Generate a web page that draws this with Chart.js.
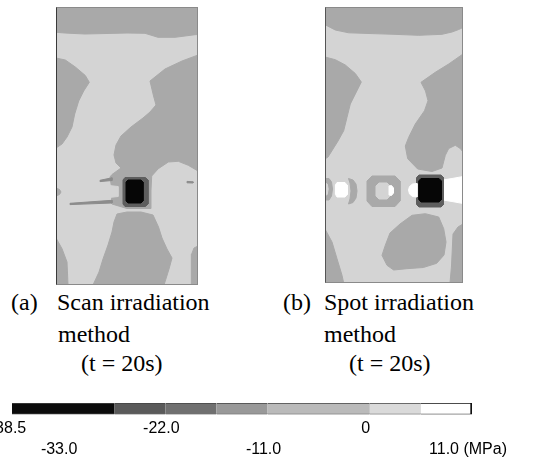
<!DOCTYPE html>
<html>
<head>
<meta charset="utf-8">
<script src="https://cdn.jsdelivr.net/npm/chart.js@4.4.0/dist/chart.umd.min.js"></script>
<style>
  html, body { margin: 0; padding: 0; background: #fff; }
  body { width: 539px; height: 461px; position: relative; overflow: hidden; }
  .panel { position: absolute; border: 1px solid #8a8a8a; }
  .panel canvas { display: block; }
  #panelA { left: 56px; top: 7px; border-left-color: #3a3a3a; }
  #panelB { left: 325px; top: 7px; border-left-color: #555; }
  #barBox { position: absolute; left: -20px; top: 395px; }
  .cap { position: absolute; font-family: "Liberation Serif", "Times New Roman", serif; font-size: 24px; line-height: 24px; color: #000; white-space: pre; }
</style>
</head>
<body>
<div class="panel" id="panelA"><canvas id="mapA" width="140" height="276"></canvas></div>
<div class="panel" id="panelB"><canvas id="mapB" width="136" height="274"></canvas></div>
<div id="barBox"><canvas id="scaleBar" width="559" height="66"></canvas></div>

<div class="cap" style="left:11px;top:290px">(a)</div>
<div class="cap" style="left:57px;top:290px">Scan irradiation</div>
<div class="cap" style="left:58px;top:322px">method</div>
<div class="cap" style="left:81px;top:351px">(t = 20s)</div>
<div class="cap" style="left:283px;top:290px">(b)</div>
<div class="cap" style="left:324px;top:290px">Spot irradiation</div>
<div class="cap" style="left:324px;top:322px">method</div>
<div class="cap" style="left:349px;top:351px">(t = 20s)</div>

<script>
// ---- stress levels (MPa) for the colour bar ----
const levelEdges = [-38.5, -27.5, -22.0, -16.5, -11.0, 0, 5.5, 11.0];
const levelColors = ["#0b0b0b", "#5a5a5a", "#707070", "#999999", "#bababa", "#dadada", "#ffffff"];
// tick labels sit on two staggered rows
const upperTicks = [-38.5, -22.0, 0];
const upperLabels = ["-38.5", "-22.0", "0"];
const lowerTicks = [-33.0, -11.0, 11.0];
const lowerLabels = ["-33.0", "-11.0", "11.0 (MPa)"];

// ---- contour regions, plate coords (x right, y down) ----
// (a) scan irradiation, plate 140 x 276
const aPlate = [[-1,-1],[141,-1],[141,277],[-1,277]];
const aTop = [[-1,-1],[141,-1],[141,26.5],[138,26.7],[118,29.3],[101,29.3],[88,25.3],[70,25],[28,26],[8,25],[-1,24.3]];
const aLeftUpper = [[-1,50],[8.3,52],[18.3,59],[28.3,67.5],[32.3,74.3],[26.7,83],[21.7,93],[17.7,106],[15,119],[10,129],[5,136],[-1,140]];
const aRightBig = [[141,47],[125,53],[108,61],[93,73],[96.3,87],[99,97],[93,104],[86,110],[74,119],[64,128],[59,137],[57,147],[59,155],[64,160],[55,166.5],[53,169],[55,182],[55,196],[70,200.5],[93,200.5],[94,182],[94.7,168],[101.3,160.7],[111.3,154],[121.3,153.3],[131.3,157.3],[141,163]];
const aNotch = [[52,177.5],[61,178.5],[61,188.5],[52,189.5]];
const aStreakUp = [[43,172.3],[55,169.8],[55,172.5],[43,173.6]];
const aStreakLow = [[13,195.3],[55,192.3],[55,195],[13,196.6]];
const aHalo = [[68,169.5],[88.5,169.5],[91,172],[91,196],[88.5,198.5],[68,198.5],[66,196],[66,172]];
const aCore = [[71,172],[84,172],[86,174],[86,193],[84,195],[71,195],[69,193],[69,174]];
const aBottom = [[60,206],[70,204],[84,204],[96,207],[101.5,219],[105,230],[110,241],[115,250],[112,261],[107,277],[36,277],[42,264],[46,251],[51,237],[55,224],[57,214]];
const aLeftBottom = [[-1,230],[5,240.7],[10,254],[11,277],[-1,277]];
const aRightBottom = [[134.7,246],[137,240],[141,238],[141,277],[134.5,277],[134,260]];
const aLeftBump = [[-1,180],[2.5,181.5],[4,184],[2.5,186.5],[-1,188]];
const aDash = [[130,173.4],[136,173.8],[136,175],[130,174.8]];

// (b) spot irradiation, plate 136 x 274
const bPlate = [[-1,-1],[137,-1],[137,275],[-1,275]];
const bTop = [[-1,-1],[137,-1],[137,19.5],[132.7,21.5],[126,24],[116,26.3],[92.7,27.3],[68,26.3],[46,25.6],[22.7,24.8],[9.3,22],[-1,16.7]];
const bLeftUpper = [[-1,49],[9.3,51.7],[19.3,57],[29.3,65.5],[35.3,74],[29.3,86],[24.3,96],[21,109.3],[17.7,122.7],[12,133],[7,141],[2,149],[-1,151]];
const bRightBig = [[137,46],[122.7,56],[109.3,64.3],[95,74.3],[99.5,83],[102,92.7],[98.5,102.7],[89.3,116],[82.7,129.3],[79.3,138],[81.7,150.7],[91.7,161],[106,163.5],[116,160],[119.3,147.3],[122.7,140.5],[129.3,137.3],[134.3,140.5],[137,144]];
const bBlob = [[64,225],[74,216],[86,207.3],[99.3,205.7],[112.7,209],[117.7,220.7],[120,234],[118,247],[110.7,255.3],[97.3,259.5],[80.7,260.7],[67.7,262],[61,257.3],[56,247.3],[59.3,237.3]];
const bLeftBottom = [[-1,221],[6,234],[11,250.7],[16,267.3],[17.7,275],[-1,275]];
const bRightBottom = [[127,226],[132,219],[137,216],[137,275],[124,275],[125.5,258]];
const bRingOuter = [[46,168],[69,168],[74,173],[74,193],[69,198.5],[46,198.5],[41,193],[41,173]];
const bRingInner = [[53,175],[61,175],[64,178],[64,188],[61,191],[53,191],[50,188],[50,178]];
const bRingSpot = [[63,178],[65.5,177.5],[67.5,180],[67.5,185],[65.5,187.5],[63,187]];
const bArcLeft = [[-1,170.5],[3,170.5],[5.5,174],[6.5,181],[5.5,188],[3,192],[-1,192]];
const bArcLeftIn = [[-1,175],[1.2,176],[2.2,181],[1.2,186.5],[-1,187.5]];
const bWhiteBlob = [[11,174.5],[19,174.5],[21,177],[21.5,181.5],[21,186.5],[19,189],[11,189],[9.5,186.5],[9.3,181.5],[9.5,177]];
const bArcRight = [[22.5,170.5],[27,172],[30,176],[31,183],[30,190],[27,194.5],[22.5,196],[24,191],[25,183],[24,175]];
const bHalo = [[93,167],[115,167],[117.5,169.5],[117.5,196.5],[115,199],[93,199],[90.5,196.5],[90.5,169.5]];
const bCore = [[95,170.5],[113,170.5],[115.5,173],[115.5,191.5],[113,194],[95,194],[92.7,191.5],[92.7,173]];
const bWhiteLeft = [[82.5,182],[83.5,178.5],[86.5,176],[91,175.5],[91,189],[86.5,188.5],[83.5,186]];
const bWhiteRight = [[117,172],[126,170.5],[137,168.5],[137,195.5],[126,193.5],[117,192]];

// ---- grey levels used in the maps ----
const LIGHT = "#d4d4d4", DARK = "#a9a9a9", HALO = "#5e5e5e", CORE = "#060606", STREAK = "#8c8c8c", WHITE = "#ffffff";

// layers listed bottom -> top
const layersA = [
  [aPlate, LIGHT], [aTop, DARK], [aLeftUpper, DARK], [aRightBig, DARK], [aNotch, LIGHT],
  [aStreakUp, STREAK], [aStreakLow, STREAK], [aHalo, HALO], [aCore, CORE],
  [aBottom, DARK], [aLeftBottom, DARK], [aRightBottom, DARK], [aLeftBump, DARK], [aDash, STREAK]
];
const layersB = [
  [bPlate, LIGHT], [bTop, DARK], [bLeftUpper, DARK], [bRightBig, DARK], [bBlob, DARK],
  [bLeftBottom, DARK], [bRightBottom, DARK], [bRingOuter, DARK], [bRingInner, LIGHT], [bRingSpot, WHITE],
  [bArcLeft, DARK], [bArcLeftIn, LIGHT], [bWhiteBlob, WHITE], [bArcRight, DARK],
  [bWhiteRight, WHITE], [bHalo, HALO], [bCore, CORE], [bWhiteLeft, WHITE]
];

function drawMap(id, w, h, layers) {
  new Chart(document.getElementById(id), {
    type: "line",
    data: {
      // first dataset is drawn on top, so reverse
      datasets: layers.slice().reverse().map(([pts, col]) => ({
        data: pts.concat([pts[0]]).map(([x, y]) => ({ x, y })),
        fill: "shape",
        backgroundColor: col,
        borderColor: col,
        borderWidth: 1,
        pointRadius: 0,
        tension: 0
      }))
    },
    options: {
      responsive: false,
      animation: false,
      events: [],
      layout: { padding: 0 },
      plugins: { legend: { display: false }, tooltip: { enabled: false } },
      scales: {
        x: { type: "linear", min: 0, max: w, display: false },
        y: { type: "linear", min: 0, max: h, reverse: true, display: false }
      }
    }
  });
}

drawMap("mapA", 140, 276, layersA);
drawMap("mapB", 136, 274, layersB);

// ---- colour bar ----
const last = levelColors.length - 1;
const lo = levelEdges[0], hi = levelEdges[levelEdges.length - 1];
const tickAxis = (vals, labels, lineHeight, padding, weight) => ({
  type: "linear",
  position: "bottom",
  weight,
  min: lo,
  max: hi,
  grid: { display: false, drawTicks: false },
  border: { display: false },
  afterBuildTicks: s => { s.ticks = vals.map(v => ({ value: v })); },
  ticks: {
    autoSkip: false,
    maxRotation: 0,
    padding,
    labelOffset: -4,
    color: "#000",
    font: { family: "Liberation Sans", size: 16, lineHeight },
    callback: (v, i) => labels[i]
  }
});

new Chart(document.getElementById("scaleBar"), {
  type: "bar",
  data: {
    labels: ["stress"],
    datasets: levelColors.map((c, i) => ({
      data: [[levelEdges[i], levelEdges[i + 1]]],
      backgroundColor: c,
      borderColor: i === last ? "#111" : "#444",
      borderWidth: i === last ? { top: 1, bottom: 1, right: 2 } : { top: 1, bottom: 1 },
      borderSkipped: false,
      barPercentage: 1,
      categoryPercentage: 1,
      grouped: false
    }))
  },
  options: {
    indexAxis: "y",
    responsive: false,
    animation: false,
    events: [],
    layout: { padding: { left: 32, right: 67, top: 8, bottom: 3 } },
    plugins: { legend: { display: false }, tooltip: { enabled: false } },
    scales: {
      x: tickAxis(upperTicks, upperLabels, 1.0, 6, 0),
      x2: tickAxis(lowerTicks, lowerLabels, 1.0, 0, 1),
      y: { display: false }
    }
  }
});
</script>
</body>
</html>
